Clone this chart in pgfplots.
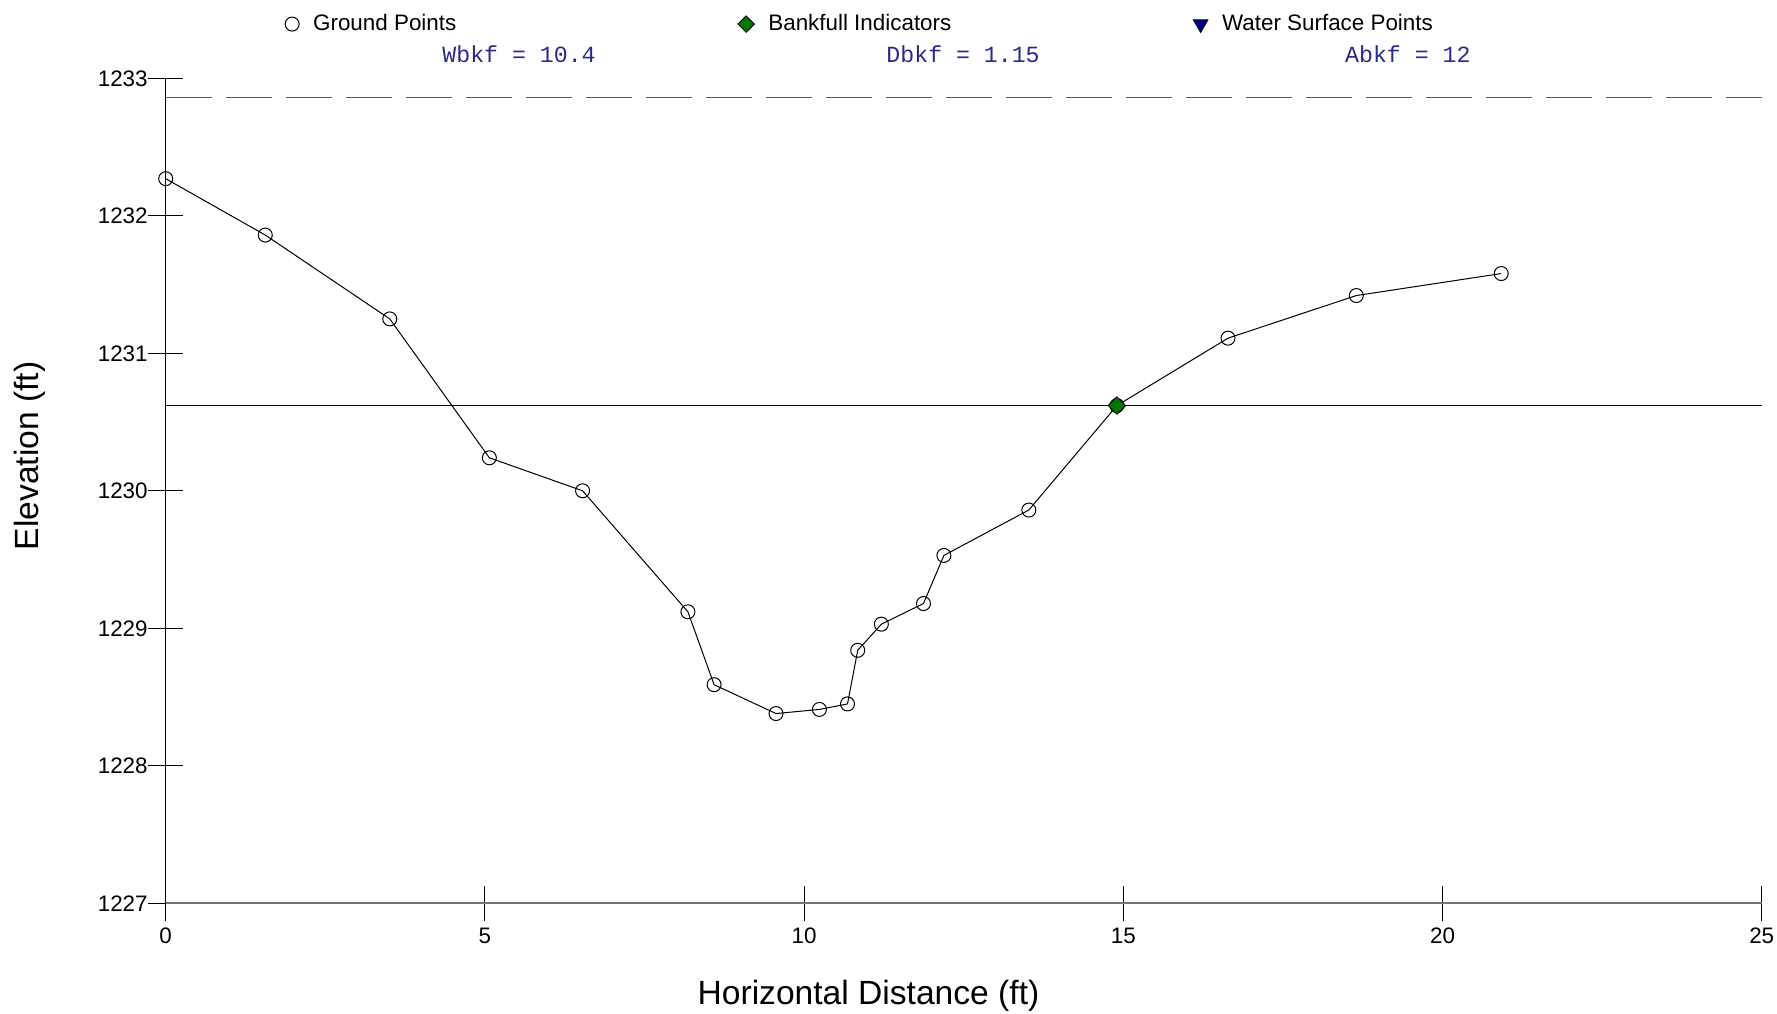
\documentclass[border=0pt]{standalone}
\usepackage{pgfplots}
\pgfplotsset{compat=1.18}
\usepackage{fontspec}
\setmainfont{Liberation Sans}
\newfontfamily\monofont{Liberation Mono}
\definecolor{annblue}{RGB}{40,40,150}
\definecolor{dashblue}{RGB}{80,80,175}
\definecolor{wsblue}{RGB}{0,0,130}
\definecolor{bkgreen}{RGB}{0,120,0}

\begin{document}
\begin{tikzpicture}
	\begin{axis}[
		scale only axis,
		width=798pt, height=412.5pt,
		xmin=0, xmax=25,
		ymin=1227, ymax=1233,
		xtick={0,5,...,25},
		ytick={1227,...,1233},
		axis x line*=bottom,
		axis y line*=left,
		axis line style={-, line width=0.6pt},
		x axis line style={black!55, line width=1pt},
		tick align=center,
		major tick length=17.8pt,
		tick style={black, line width=0.5pt},
		/pgf/number format/assume math mode=true,
		/pgf/number format/1000 sep={},
		ticklabel style={font=\fontsize{11.2}{13}\selectfont},
		yticklabel style={xshift=3.4pt},
		xlabel={Horizontal Distance (ft)},
		ylabel={Elevation (ft)},
		label style={font=\fontsize{16.8}{19}\selectfont},
		xlabel style={at={(axis description cs:0.5,0)}, anchor=center, xshift=-47.6pt, yshift=-46pt},
		ylabel style={at={(axis description cs:0,0.5)}, anchor=center, rotate=0, yshift=68pt, xshift=17.5pt},
		clip=false,
		legend columns=3,
		legend style={draw=none, fill=none, inner xsep=0pt, inner ysep=0pt,
			at={(rel axis cs:0.0746,1.0657)}, anchor=west,
			font=\fontsize{11.2}{13}\selectfont,
			/tikz/column sep=0pt,
			/tikz/every odd column/.append style={column sep=5pt},
			nodes={inner sep=2pt}},
		]
		% legend images
		\addlegendimage{only marks, mark=o, mark size=3.5pt, black, line width=0.5pt}
		\addlegendentry{\makebox[210.4pt][l]{Ground Points}}
		\addlegendimage{only marks, mark=square*, mark size=2.9pt, mark options={rotate=45}, fill=bkgreen, draw=black, line width=0.4pt}
		\addlegendentry{\makebox[210.4pt][l]{Bankfull Indicators}}
		\addlegendimage{only marks, mark=triangle*, mark size=4.3pt, mark options={rotate=180}, fill=wsblue, draw=black, line width=0.3pt}
		\addlegendentry{Water Surface Points}

		% dashed upper line
		\addplot[dashblue, line width=0.6pt, dash pattern=on 23pt off 7pt, forget plot]
		coordinates {(0,1232.86) (25,1232.86)};
		% bankfull water surface
		\addplot[wsblue, line width=0.7pt, forget plot]
		coordinates {(0,1230.62) (25,1230.62)};

		% ground profile
		\addplot[black, line width=0.5pt, mark=o, mark size=3.5pt, forget plot]
		table {
			0.00  1232.27
			1.56  1231.86
			3.51  1231.25
			5.07  1230.24
			6.53  1230.00
			8.18  1229.12
			8.59  1228.59
			9.56  1228.38
			10.24 1228.41
			10.68 1228.45
			10.84 1228.84
			11.21 1229.03
			11.87 1229.18
			12.19 1229.53
			13.52 1229.86
			14.90 1230.62
			16.64 1231.11
			18.65 1231.42
			20.92 1231.58
		};
		% bankfull indicator
		\addplot[only marks, mark=square*, mark size=3.1pt, mark options={rotate=45}, fill=bkgreen, draw=black, line width=0.4pt, forget plot]
		coordinates {(14.90,1230.62)};

		\node[text=annblue, font=\monofont\fontsize{11.6}{13}\selectfont] at (rel axis cs:0.2214,1.0293) {Wbkf = 10.4};
		\node[text=annblue, font=\monofont\fontsize{11.6}{13}\selectfont] at (rel axis cs:0.4996,1.0293) {Dbkf = 1.15};
		\node[text=annblue, font=\monofont\fontsize{11.6}{13}\selectfont] at (rel axis cs:0.7783,1.0293) {Abkf = 12};
	\end{axis}
	\pgfresetboundingbox
	\path[use as bounding box] (current axis.origin) ++(-82.85pt,-54.85pt) rectangle ++(888.5pt,506.5pt);
\end{tikzpicture}
\end{document}
